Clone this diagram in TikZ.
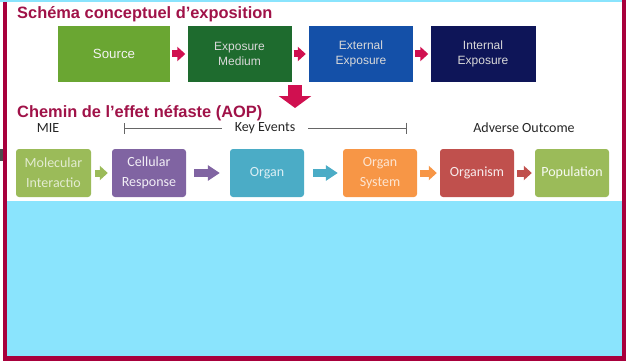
\documentclass[tikz,border=0pt]{standalone}
\usepackage{fontspec}
\setmainfont{Liberation Sans}
\newfontfamily\calibri{Carlito}
\usetikzlibrary{arrows.meta}

\definecolor{cadre}{RGB}{168,0,60}
\definecolor{titre}{RGB}{160,18,72}
\definecolor{fleche}{RGB}{208,16,80}
\definecolor{ciel}{RGB}{138,228,253}
\definecolor{srcgreen}{RGB}{106,166,50}
\definecolor{medgreen}{RGB}{30,107,46}
\definecolor{extblue}{RGB}{20,80,168}
\definecolor{intnavy}{RGB}{14,21,88}
\definecolor{aopgreen}{RGB}{155,187,89}
\definecolor{aoppurple}{RGB}{128,100,162}
\definecolor{aopteal}{RGB}{75,172,198}
\definecolor{aoporange}{RGB}{247,150,70}
\definecolor{aopred}{RGB}{192,80,77}

\tikzset{
	titlelabel/.style = {anchor = west, inner sep = 0pt, text = titre, font = \fontsize{16.4}{19}\selectfont\bfseries},
	expobox/.style = {minimum width = 104pt, minimum height = 56pt, inner sep = 0pt, align = center, text = white!85!black, font = \fontsize{12}{14.5}\selectfont},
	aopbox/.style = {rounded corners = 3pt, minimum width = 74pt, minimum height = 48pt, inner sep = 0pt, align = center, font = \calibri\fontsize{14}{20}\selectfont},
	aoplabel/.style = {inner sep = 0pt, text = black!85, font = \calibri\fontsize{14}{16}\selectfont},
	blockarrow/.style = {line width = 7pt, -{Triangle[length = 8pt, width = 14pt]}},
	bigarrow/.style = {line width = 8pt, -{Triangle[length = 12pt, width = 15pt]}}
}

\begin{document}
\begin{tikzpicture}[x = 1pt, y = -1pt]
	%	page and frame
	\useasboundingbox (0, 0) rectangle (626, 361);
	\fill[ciel] (0, 0) rectangle (622, 2);
	\fill[ciel] (7, 201) rectangle (622, 356);
	\fill[cadre] (3, 2) rectangle (7, 361);
	\fill[cadre] (622, 0) rectangle (626, 361);
	\fill[cadre] (3, 356) rectangle (626, 361);
	\fill[black!70] (0, 149) rectangle (3, 161);
	
	%	exposure scheme
	\node[titlelabel] (titre1) at (17, 14) {Schéma conceptuel d’exposition};
	
	\node[expobox, fill = srcgreen, minimum width = 112pt, text = white!95!black, font = \fontsize{13.3}{15}\selectfont] (src) at (114, 54) {Source};
	\node[expobox, fill = medgreen] (med) at (239.5, 54) {Exposure\\Medium};
	\node[expobox, fill = extblue] (ext) at (361, 54) {External\\Exposure};
	\node[expobox, fill = intnavy, minimum width = 105pt] (int) at (483, 54) {Internal\\Exposure};
	
	\draw[blockarrow, fleche, shorten <= 2pt, shorten >= 2pt] (src) -- (med);
	\draw[blockarrow, fleche, shorten <= 2pt, shorten >= 3pt] (med) -- (ext);
	\draw[blockarrow, fleche, shorten <= 2pt, shorten >= 2pt] (ext) -- (int);
	
	%	down arrow
	\coordinate (bas1) at (295, 85);
	\coordinate (bas2) at (295, 108);
	\draw[fleche, line width = 14pt, -{Triangle[length = 12pt, width = 32pt]}] (bas1) -- (bas2);
	
	%	adverse outcome pathway
	\node[titlelabel] (titre2) at (17, 113) {Chemin de l’effet néfaste (AOP)};
	
	\node[aoplabel] (mie) at (48, 128) {MIE};
	\node[aoplabel, inner xsep = 13pt] (ke) at (265, 128) {Key Events};
	\node[aoplabel] (ao) at (524, 128) {Adverse Outcome};
	\coordinate (kedeb) at (124, 128);
	\coordinate (kefin) at (406, 128);
	\draw[black!60, {Bar[width = 11pt]}-] (kedeb) -- (ke.west);
	\draw[black!60, -{Bar[width = 11pt]}] (ke.east) -- (kefin);
	
	\node[aopbox, fill = aopgreen, text = white!72!aopgreen, minimum width = 75pt] (mol) at (53.5, 173) {Molecular\\Interactio};
	\node[aopbox, fill = aoppurple, text = white!90!aoppurple] (cell) at (149, 173) {Cellular\\Response};
	\node[aopbox, fill = aopteal, text = white!80!aopteal] (organ) at (267, 173) {Organ};
	\node[aopbox, fill = aoporange, text = white!75!aoporange] (osys) at (380, 173) {Organ\\System};
	\node[aopbox, fill = aopred, text = white!88!aopred] (orgm) at (477, 173) {Organism};
	\node[aopbox, fill = aopgreen, text = white!92!aopgreen] (pop) at (572, 173) {Population};
	
	\draw[blockarrow, aopgreen, shorten <= 4pt, shorten >= 4pt] (mol) -- (cell);
	\draw[bigarrow, aoppurple, shorten <= 8pt, shorten >= 10pt] (cell) -- (organ);
	\draw[bigarrow, aopteal, shorten <= 9pt, shorten >= 5pt] (organ) -- (osys);
	\draw[blockarrow, aoporange, shorten <= 3pt, shorten >= 3pt] (osys) -- (orgm);
	\draw[blockarrow, aopred, shorten <= 3pt, shorten >= 3pt] (orgm) -- (pop);
\end{tikzpicture}
\end{document}
